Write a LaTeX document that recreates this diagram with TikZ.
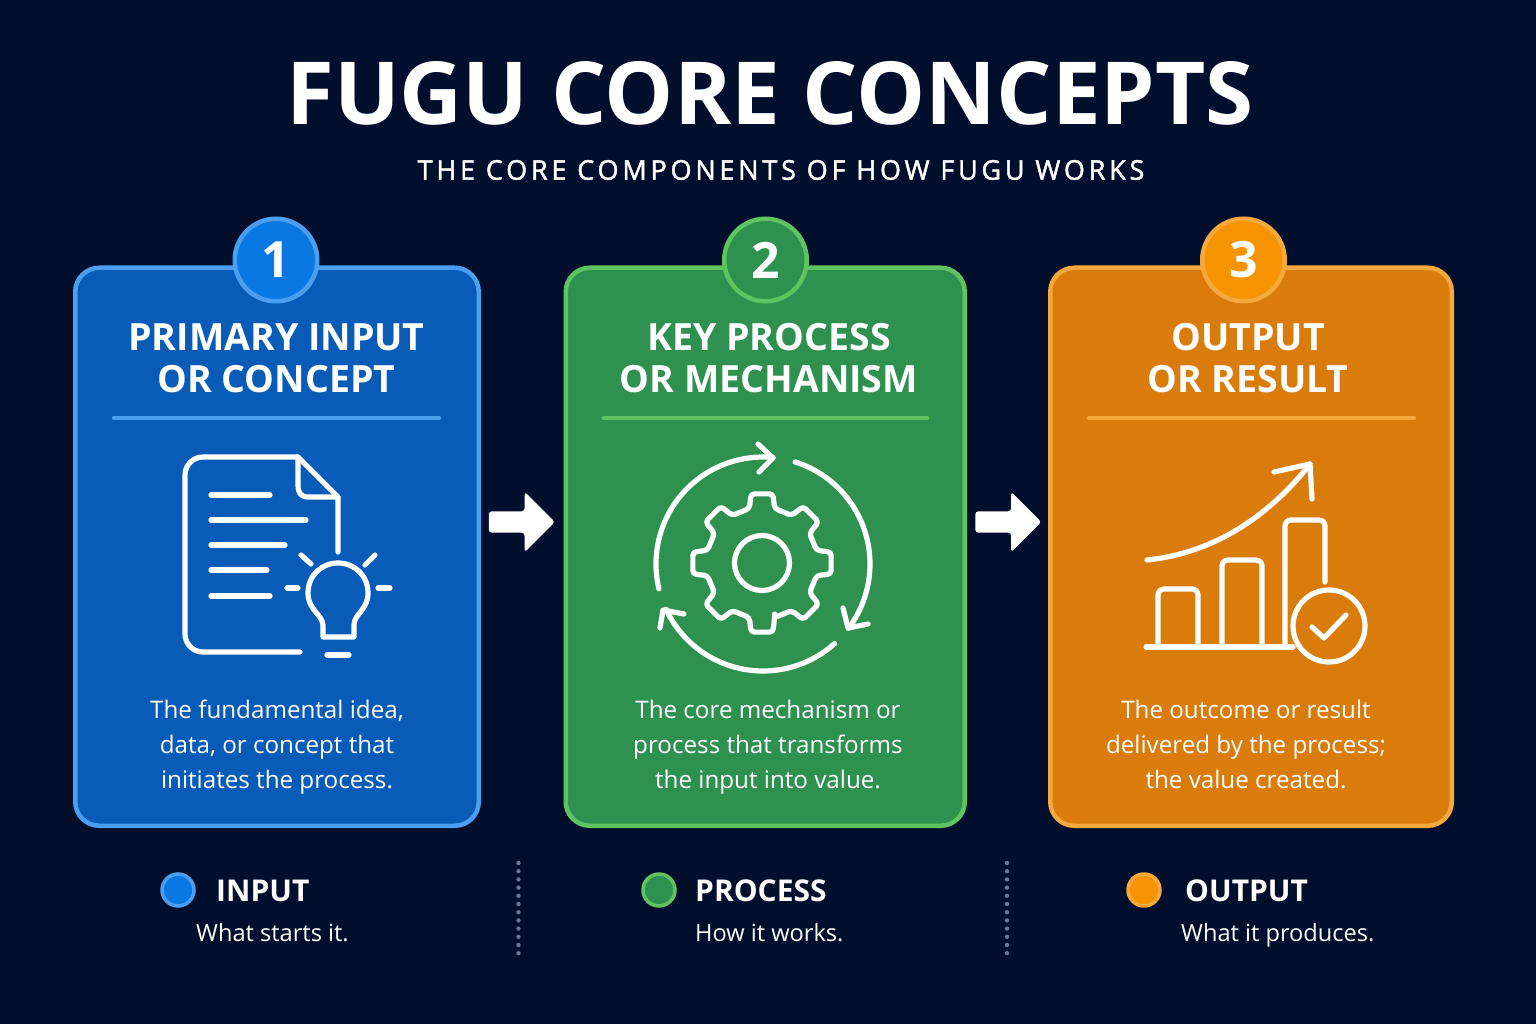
\documentclass[tikz,border=0pt]{standalone}
\usepackage{fontspec}
\setmainfont{Open Sans}
\newfontfamily\subfont[LetterSpace=14,FakeBold=1.6]{Open Sans}
\usetikzlibrary{shapes.arrows}
\definecolor{bgc}{HTML}{010E2C}
\definecolor{bluef}{HTML}{085CB8}\definecolor{blueb}{HTML}{4A9FF0}\definecolor{bluec}{HTML}{0A78E2}
\definecolor{greenf}{HTML}{2E9150}\definecolor{greenb}{HTML}{5FC45F}\definecolor{greenc}{HTML}{2E9150}
\definecolor{orangef}{HTML}{D97C0C}\definecolor{orangeb}{HTML}{F5A83C}\definecolor{orangec}{HTML}{F59300}
\definecolor{dotc}{HTML}{6D7894}
\tikzset{
 cardbox/.style={draw=#1b,fill=#1f,line width=4.5pt,rounded corners=24pt,inner sep=0pt},
 badge/.style={circle,draw=#1b,fill=#1c,line width=4.5pt,minimum size=82.5pt,inner sep=0pt,text=white,font=\fontsize{50}{50}\selectfont\bfseries},
 head/.style={text=white,font=\fontsize{37.5}{42}\selectfont\bfseries,align=center,inner sep=0pt},
 bodyt/.style={text=white,font=\fontsize{24.2}{35}\selectfont,align=center,inner sep=0pt},
 rulel/.style={draw=#1,line width=4.5pt,line cap=round},
 icon/.style={draw=white,line width=5.2pt,line cap=round,line join=round},
 blockarr/.style={single arrow,fill=white,draw=none,minimum width=60pt,minimum height=66pt,inner sep=10.5pt,single arrow head extend=19.5pt,single arrow tip angle=90,rounded corners=3pt,shape border rotate=0},
 legdot/.style={circle,draw=#1b,fill=#1c,line width=3.5pt,minimum size=32pt,inner sep=0pt},
 legh/.style={text=white,font=\fontsize{30}{32}\selectfont\bfseries,anchor=base west,inner sep=0pt},
 legt/.style={text=white,font=\fontsize{23.6}{28}\selectfont,anchor=base west,inner sep=0pt},
 sepl/.style={draw=dotc,line width=4.4pt,line cap=round,dash pattern=on 0pt off 8.2pt},
}
\begin{document}
\begin{tikzpicture}[x=1pt,y=-1pt]
\useasboundingbox (0,0) rectangle (1536,1024);
\fill[bgc] (0,0) rectangle (1536,1024);
\node[text=white,inner sep=0pt,font=\fontsize{87}{87}\selectfont\bfseries] (title) at (770,93) {FUGU CORE CONCEPTS};
\node[text=white,inner sep=0pt,font=\fontsize{27}{27}\selectfont\subfont] (subtitle) at (781,170) {THE CORE COMPONENTS OF HOW FUGU WORKS};
% cards
\node[cardbox=blue,minimum width=403.5pt,minimum height=558pt] (card1) at (277,546.75) {};
\node[cardbox=green,minimum width=399pt,minimum height=558pt] (card2) at (765.25,546.75) {};
\node[cardbox=orange,minimum width=401.5pt,minimum height=558pt] (card3) at (1251,546.75) {};
\node[badge=blue] (b1) at (276,260) {1};
\node[badge=green] (b2) at (765.5,260) {2};
\node[badge=orange] (b3) at (1243.5,260) {3};
\node[head] (h1) at (276.5,358) {PRIMARY INPUT\\OR CONCEPT};
\node[head] (h2) at (769,358) {KEY PROCESS\\OR MECHANISM};
\node[head] (h3) at (1248,358) {OUTPUT\\OR RESULT};
\draw[rulel=blueb] (114,418) -- (439,418);
\draw[rulel=greenb] (604,418) -- (927,418);
\draw[rulel=orangeb] (1089,418) -- (1414,418);
\node[bodyt] (t1) at (277,747) {The fundamental idea,\\data, or concept that\\initiates the process.};
\node[bodyt] (t2) at (768,747) {The core mechanism or\\process that transforms\\the input into value.};
\node[bodyt] (t3) at (1246,744.5) {The outcome or result\\delivered by the process;\\the value created.};
\node[blockarr] (a1) at (516.5,522) {};
\node[blockarr] (a2) at (1003,522) {};
% document icon
\draw[icon] (300,652) -- (203,652) arc[start angle=90,end angle=180,radius=18] -- (185,475) arc[start angle=180,end angle=270,radius=18] -- (298,457) -- (338,497) -- (338,552);
\draw[icon] (298,457) -- (298,485) .. controls (298,493) and (301,497) .. (308,497) -- (338,497);
\foreach \e/\yy in {270/495,306/520,285/545,267/570,270/596} \draw[icon] (211,\yy) -- (\e,\yy);
\draw[icon] (323,637) -- (323,625) .. controls (322,614) and (308,610) .. (308,593) .. controls (308,575) and (322,563) .. (338,563) .. controls (354,563) and (368,575) .. (368,593) .. controls (368,610) and (354,614) .. (354,625) -- (354,637) -- cycle;
\draw[icon] (327,655) -- (349,655);
\draw[icon] (301,555) -- (311,564);
\draw[icon] (375,555) -- (365,565);
\draw[icon] (287,588) -- (298,588);
\draw[icon] (378,588) -- (390,588);
% gear icon
\begin{scope}[shift={(762,563)}]
\draw[icon,rounded corners=3.5pt] (90-13:56) \foreach \k in {0,45,...,315} { -- ({90+\k-13}:56) -- ({90+\k-9}:70) -- ({90+\k+9}:70) -- ({90+\k+13}:56) } -- cycle;
\draw[icon] (0,0) circle[radius=27.5];
\end{scope}
\draw[icon] plot[domain=166.6:275.4,samples=50,smooth] ({763+107*cos(\x)},{564+107*sin(\x)});
\draw[icon] (758,444) -- (773,458) -- (759,472);
\draw[icon] plot[domain=-72.6:37,samples=50,smooth] ({763+107*cos(\x)},{564+107*sin(\x)});
\draw[icon] (843,608) -- (848,628) -- (868,624);
\draw[icon] plot[domain=48:155,samples=50,smooth] ({763+107*cos(\x)},{564+107*sin(\x)});
\draw[icon] (660,628) -- (663,610) -- (684,614);
% chart icon
\draw[icon] (1146,647) -- (1293,647);
\draw[icon,rounded corners=6pt] (1158,647) -- (1158,589) -- (1198,589) -- (1198,647);
\draw[icon,rounded corners=6pt] (1222,647) -- (1222,560) -- (1262,560) -- (1262,647);
\draw[icon,rounded corners=6pt] (1285,647) -- (1285,520) -- (1325,520) -- (1325,582);
\draw[icon] (1329,626) circle[radius=36];
\draw[icon] (1312,627) -- (1324,638) -- (1346,615);
\draw[icon] (1147,560) .. controls (1215,553) and (1270,515) .. (1310,464);
\draw[icon] (1274,472) -- (1310,464) -- (1312,499);
% legend
\node[legdot=blue] (d1) at (178,890) {};
\node[legdot=green] (d2) at (659,890) {};
\node[legdot=orange] (d3) at (1144,890) {};
\node[legh] (l1) at (216,901) {INPUT};
\node[legh] (l2) at (695,901) {PROCESS};
\node[legh] (l3) at (1185,901) {OUTPUT};
\node[legt] (m1) at (196,941) {What starts it.};
\node[legt] (m2) at (695,941) {How it works.};
\node[legt] (m3) at (1181,941) {What it produces.};
\draw[sepl] (518.5,863) -- (518.5,955);
\draw[sepl] (1007,863) -- (1007,955);
\end{tikzpicture}
\end{document}
